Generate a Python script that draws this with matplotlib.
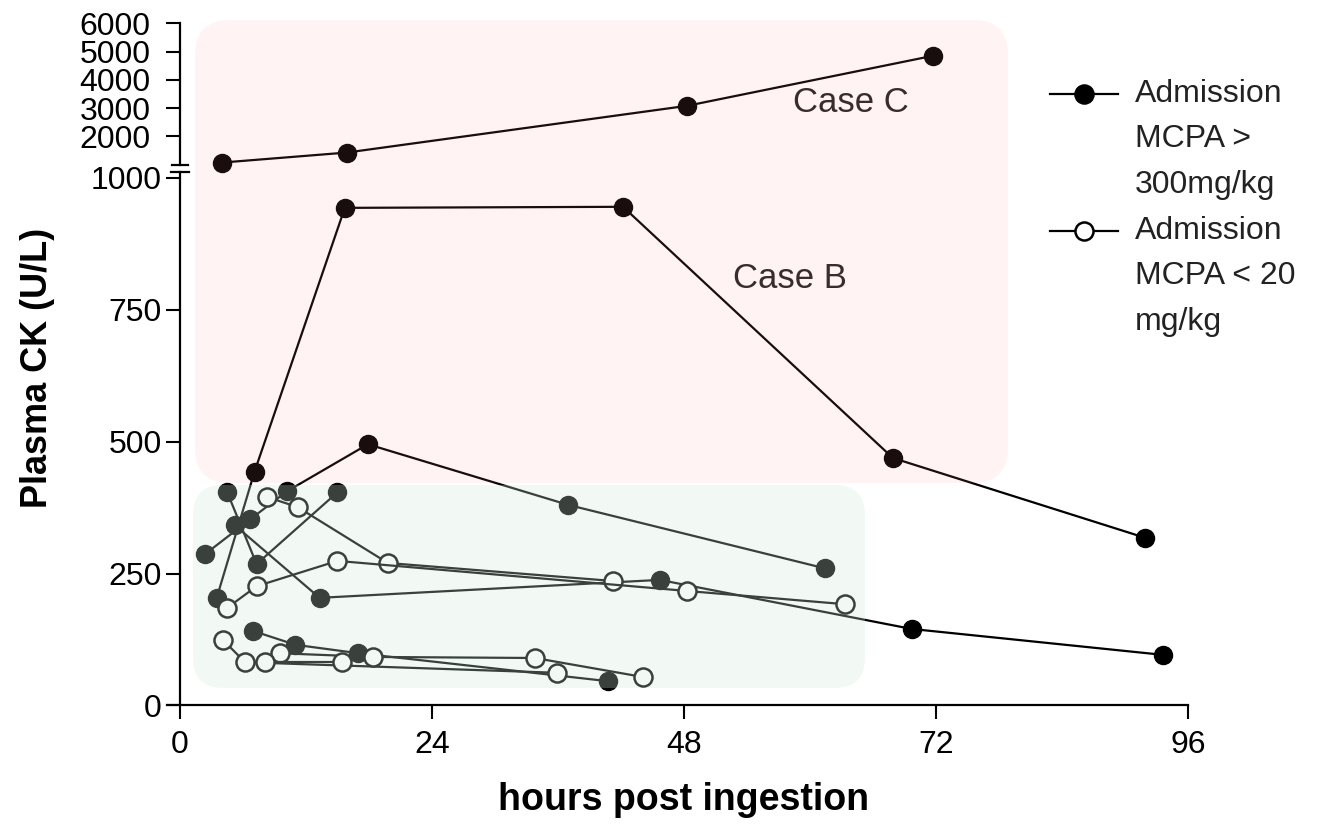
import matplotlib
matplotlib.use("Agg")
import matplotlib.pyplot as plt
import matplotlib.transforms as mtransforms
from matplotlib.patches import FancyBboxPatch
from matplotlib.lines import Line2D

plt.rcParams['font.family'] = ['Liberation Sans', 'DejaVu Sans']

# data: hours post ingestion, plasma CK (U/L)
case_c_h  = [4.0, 15.9, 48.3, 71.7]
case_c_ck = [1070, 1425, 3080, 4850]

case_b_h  = [3.5, 7.1, 15.7, 42.2, 67.9, 91.9]
case_b_ck = [204, 443, 943, 945, 469, 318]

# admission MCPA > 300 mg/kg (filled)
hi_1_h  = [2.4, 6.7, 10.2, 17.9, 37.0, 61.4]
hi_1_ck = [287, 353, 406, 495, 380, 260]
hi_2_h  = [4.5, 7.3, 15.0]
hi_2_ck = [404, 268, 404]
hi_3_h  = [5.2, 13.3, 45.7, 69.7, 93.6]
hi_3_ck = [342, 204, 238, 145, 96]
hi_4_h  = [7.0, 11.0, 17.0, 40.8]
hi_4_ck = [141, 115, 99, 46]

# admission MCPA < 20 mg/kg (open)
lo_1_h  = [8.3, 11.2, 19.8, 41.2]
lo_1_ck = [395, 376, 270, 236]
lo_2_h  = [4.5, 7.3, 15.0, 48.3, 63.3]
lo_2_ck = [185, 226, 274, 217, 192]
lo_3_h  = [4.1, 6.2, 35.9]
lo_3_ck = [124, 82, 62]
lo_4_h  = [9.5, 18.4, 33.8, 44.1]
lo_4_ck = [99, 92, 90, 54]
lo_5_h  = [8.1, 15.4]
lo_5_ck = [82, 82]

x_ticks = [0, 24, 48, 72, 96]
y_ticks_low = [0, 250, 500, 750, 1000]
y_ticks_high = [2000, 3000, 4000, 5000, 6000]

high_series = [(case_b_h, case_b_ck), (hi_1_h, hi_1_ck), (hi_2_h, hi_2_ck),
               (hi_3_h, hi_3_ck), (hi_4_h, hi_4_ck)]
low_series = [(lo_1_h, lo_1_ck), (lo_2_h, lo_2_ck), (lo_3_h, lo_3_ck),
              (lo_4_h, lo_4_ck), (lo_5_h, lo_5_ck)]

W, H = 1324, 826
fig = plt.figure(figsize=(W / 100, H / 100), dpi=100)
ax = fig.add_axes([0.1261, 0.1459, 0.7711, 0.6459])
ax_top = fig.add_axes([0.1261, 0.8008, 0.7711, 0.1709])

xlim = (-1.24, 96)
for a in (ax, ax_top):
    a.set_xlim(*xlim)
    a.patch.set_alpha(0)
    for s in ("top", "right"):
        a.spines[s].set_visible(False)
    a.spines["left"].set_position(("data", 0))
    a.spines["left"].set_linewidth(1.6)
    a.spines["bottom"].set_linewidth(1.6)

ax.set_ylim(0, 1011)
ax_top.set_ylim(1000, 6000)
ax_top.spines["bottom"].set_visible(False)
ax_top.set_xticks([])

ax.set_xticks(x_ticks)
ax.set_yticks(y_ticks_low)
ax.tick_params(axis="y", direction="out", length=10, width=1.5, labelsize=23, pad=3)
ax.tick_params(axis="x", direction="out", length=10, width=1.5, labelsize=23, pad=8)
ax_top.set_yticks(y_ticks_high)
ax_top.tick_params(axis="y", direction="out", length=10, width=1.5, labelsize=23, pad=11)

# axis break caps
tr = mtransforms.blended_transform_factory(ax.transData, ax.transAxes)
ax.plot([-0.9, 0.9], [1, 1], transform=tr, color="black", lw=1.6, clip_on=False)
tr2 = mtransforms.blended_transform_factory(ax_top.transData, ax_top.transAxes)
ax_top.plot([-0.75, 0.75], [0, 0], transform=tr2, color="black", lw=1.6, clip_on=False)

ms = 13
ax_top.plot(case_c_h, case_c_ck, "-o", color="black", lw=1.6, ms=ms, clip_on=False)
for h, ck in high_series:
    ax.plot(h, ck, "-o", color="black", lw=1.6, ms=ms, clip_on=False)
for h, ck in low_series:
    ax.plot(h, ck, "-o", color="black", mfc="white", mec="black", mew=1.8,
            lw=1.6, ms=ms, clip_on=False)

ax_top.text(63.9, 3186, "Case C", fontsize=25, ha="center", va="center", color="#222222")
ax.text(58.1, 810, "Case B", fontsize=25, ha="center", va="center", color="#222222")

fig.text(38 / W, 1 - 368 / H, "Plasma CK (U/L)", rotation=90, fontsize=26,
         fontweight="bold", ha="center", va="center")
fig.text(684 / W, 1 - 800 / H, "hours post ingestion", fontsize=27,
         fontweight="bold", ha="center", va="center")

# shaded regions drawn over the data, like the original
pink = FancyBboxPatch((1.95, 3.43), 10.08 - 1.95, 8.06 - 3.43,
                      boxstyle="round,pad=0,rounding_size=0.35",
                      transform=fig.dpi_scale_trans, facecolor=(1.0, 0.55, 0.55),
                      alpha=0.1, edgecolor="none", zorder=10)
green = FancyBboxPatch((1.93, 1.38), 8.65 - 1.93, 3.41 - 1.38,
                       boxstyle="round,pad=0,rounding_size=0.3",
                       transform=fig.dpi_scale_trans, facecolor=(0.82, 0.93, 0.85),
                       alpha=0.28, edgecolor="none", zorder=10)
fig.add_artist(pink)
fig.add_artist(green)

# legend, built by hand so the handle sits on the first text line
legend_rows = [
    (94, "black", ["Admission", "MCPA >", "300mg/kg"]),
    (231, "white", ["Admission", "MCPA < 20", "mg/kg"]),
]
for y0, face, lines in legend_rows:
    yf = 1 - y0 / H
    fig.add_artist(Line2D([1050 / W, 1084 / W, 1118 / W], [yf, yf, yf],
                          transform=fig.transFigure, color="black", lw=1.6,
                          marker="o", markevery=[1], ms=ms, mfc=face,
                          mec="black", mew=1.8))
    for i, t in enumerate(lines):
        fig.text(1135 / W, 1 - (y0 + i * 45.5) / H, t, fontsize=23,
                 ha="left", va="center", color="#222222")

fig.savefig("out.png", dpi=100)
